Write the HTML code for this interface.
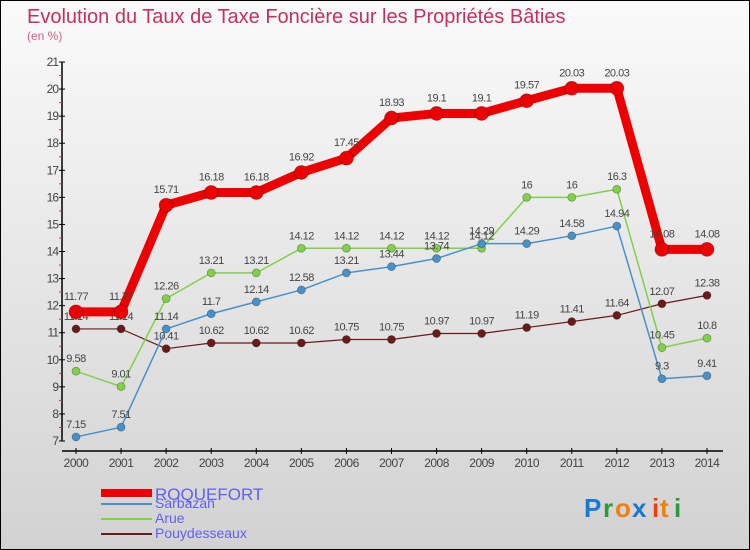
<!DOCTYPE html>
<html><head><meta charset="utf-8">
<style>
body{margin:0;}
#wrap{position:relative;width:748px;height:548px;border:1px solid #000;background:linear-gradient(#fafafa,#d2d2d2);overflow:hidden;font-family:"Liberation Sans",sans-serif;}
</style></head><body>
<div id="wrap">
<svg id="chart" width="748" height="548" xmlns="http://www.w3.org/2000/svg">
<text x="26" y="22" font-size="20" fill="#c8305c">Evolution du Taux de Taxe Foncière sur les Propriétés Bâties</text>
<text x="26" y="39" font-size="12" fill="#d06080">(en %)</text>
<g id="axes"></g>
<g id="series"></g>
<g id="legend"></g>
<g font-size="26" font-family="'Liberation Sans',sans-serif" font-weight="bold">
<text x="583" y="516" fill="#1a78d0">P</text><text x="602" y="516" fill="#2a9a3a">r</text><text x="614" y="516" fill="#f08010">o</text><text x="631" y="516" fill="#1a78d0">x</text><text x="651" y="516" fill="#f04010">i</text><text x="659" y="516" fill="#f08010">t</text><text x="673" y="516" fill="#2a9a3a">i</text>
</g>
</svg>
</div>
<script>
const years=[2000,2001,2002,2003,2004,2005,2006,2007,2008,2009,2010,2011,2012,2013,2014];
const roquefort=[11.77,11.77,15.71,16.18,16.18,16.92,17.45,18.93,19.1,19.1,19.57,20.03,20.03,14.08,14.08];
const sarbazan=[7.15,7.51,11.14,11.7,12.14,12.58,13.21,13.44,13.74,14.29,14.29,14.58,14.94,9.3,9.41];
const arue=[9.58,9.01,12.26,13.21,13.21,14.12,14.12,14.12,14.12,14.12,16,16,16.3,10.45,10.8];
const pouy=[11.14,11.14,10.41,10.62,10.62,10.62,10.75,10.75,10.97,10.97,11.19,11.41,11.64,12.07,12.38];
const yTicks=[7,8,9,10,11,12,13,14,15,16,17,18,19,20,21];
const NS='http://www.w3.org/2000/svg';
const x=i=>75+i*45.07;
const y=v=>440-(v-7)*27.07;
function mk(tag,attrs,parent,txt){const e=document.createElementNS(NS,tag);for(const k in attrs)e.setAttribute(k,attrs[k]);if(txt!==undefined)e.textContent=txt;parent.appendChild(e);return e;}
const axes=document.getElementById('axes');
let e=mk('line',{x1:61,y1:y(21),x2:61,y2:y(7),stroke:'#000','stroke-width':1.5},axes);

e=mk('line',{x1:61,y1:450,x2:722,y2:450,stroke:'#000','stroke-width':1.5},axes);

yTicks.forEach(t=>{
  mk('line',{x1:58,y1:y(t),x2:64,y2:y(t),stroke:'#000'},axes);
  e=mk('text',{x:57,y:y(t)+4,'font-size':12,fill:'#444','text-anchor':'end','letter-spacing':'-1'},axes,t);
  
  if(t<21) mk('line',{x1:58,y1:y(t+0.5),x2:61,y2:y(t+0.5),stroke:'#e03030'},axes);
});
years.forEach((yr,i)=>{
  mk('line',{x1:x(i),y1:447,x2:x(i),y2:453,stroke:'#000'},axes);
  e=mk('text',{x:x(i),y:466,'font-size':12,fill:'#444','text-anchor':'middle','letter-spacing':'-0.5'},axes,yr);
  
});
const series=[
 {name:'pouydesseaux',data:pouy,color:'#6b1a1a',w:1.2,r:4},
 {name:'arue',data:arue,color:'#80d048',w:1.5,r:4},
 {name:'sarbazan',data:sarbazan,color:'#4a90c8',w:1.5,r:4},
 {name:'roquefort',data:roquefort,color:'#ee0000',w:9,r:7}
];
const sg=document.getElementById('series');
series.forEach(s=>{
  const g=mk('g',{},sg);
  
  const pts=s.data.map((v,i)=>x(i)+','+y(v)).join(' ');
  mk('polyline',{points:pts,fill:'none',stroke:s.color,'stroke-width':s.w,'stroke-linejoin':'round'},g);
  s.data.forEach((v,i)=>{
    const c=mk('circle',{cx:x(i),cy:y(v),r:s.r,fill:s.color,stroke:'rgba(0,0,0,0.3)','stroke-width':0.8},g);
    
    const t=mk('text',{x:x(i),y:y(v)-(s.r+5),'font-size':11,fill:'#444','text-anchor':'middle','letter-spacing':'-0.5'},g,v);
    
  });
});
const lg=document.getElementById('legend');
const leg=[['ROQUEFORT','#ee0000',8,499,17],['Sarbazan','#4a90c8',2,507,14],['Arue','#80d048',2,522,14],['Pouydesseaux','#6b1a1a',2,537,14]];
leg.forEach(l=>{
  const g=mk('g',{},lg);
  
  const ly=l[0]==='ROQUEFORT'?492:l[3]-4;
  mk('line',{x1:100,y1:ly,x2:151,y2:ly,stroke:l[1],'stroke-width':l[2]},g);
  mk('text',{x:154,y:l[0]==='ROQUEFORT'?499:l[3],'font-size':l[4],fill:'#6060f0'},g,l[0]);
});
</script>
</body></html>
